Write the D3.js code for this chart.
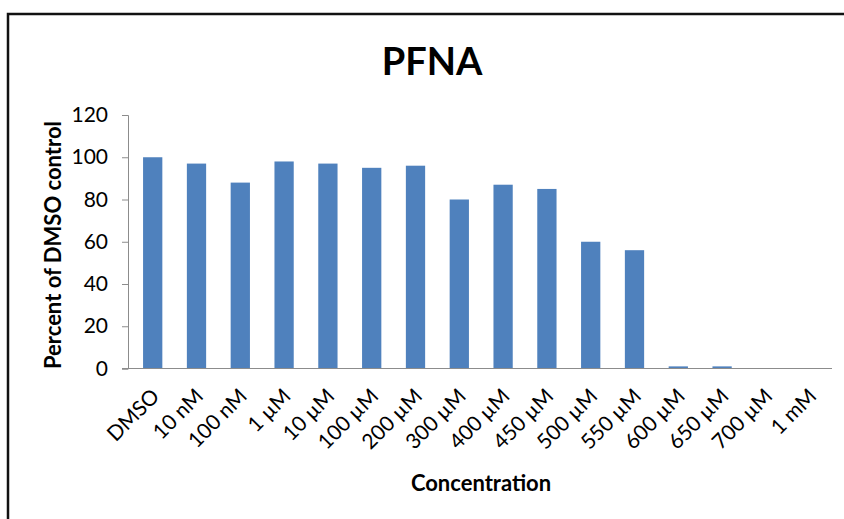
<!DOCTYPE html>
<html>
<head>
<meta charset="utf-8">
<script src="https://cdn.jsdelivr.net/npm/d3@7"></script>
<style>
  html, body { margin: 0; padding: 0; background: #fff; }
  svg { display: block; }
  text { font-family: Lato, "Open Sans", sans-serif; fill: #000; }
</style>
</head>
<body>
<svg id="chart" width="844" height="519"></svg>
<script>
// Concentrations tested and viability as percent of the DMSO control
const categories = ["DMSO", "10 nM", "100 nM", "1 µM", "10 µM", "100 µM", "200 µM", "300 µM",
                    "400 µM", "450 µM", "500 µM", "550 µM", "600 µM", "650 µM", "700 µM", "1 mM"];
const values = [100, 97, 88, 98, 97, 95, 96, 80, 87, 85, 60, 56, 1, 1, 0, 0];
const yTicks = [0, 20, 40, 60, 80, 100, 120];

const svg = d3.select("#chart");

// Outer chart frame
svg.append("rect")
  .attr("x", 8).attr("y", 14)
  .attr("width", 900).attr("height", 600)
  .attr("fill", "#fff")
  .attr("stroke", "#111").attr("stroke-width", 2.5);

const x = d3.scaleBand()
  .domain(categories)
  .range([130.8, 831.6])
  .paddingInner(0.56)
  .paddingOuter(0.28);

const y = d3.scaleLinear()
  .domain([0, 120])
  .range([368.5, 115]);

// Bars
svg.append("g")
  .selectAll("rect")
  .data(values)
  .join("rect")
  .attr("x", (d, i) => x(categories[i]))
  .attr("width", x.bandwidth())
  .attr("y", d => y(d))
  .attr("height", d => y(0) - y(d))
  .attr("fill", "#4F81BD");

// Y axis
const yAxis = svg.append("g")
  .attr("transform", "translate(128,0)")
  .call(d3.axisLeft(y).tickValues(yTicks).tickSize(6).tickPadding(14));
yAxis.select(".domain").attr("stroke", "#8c8c8c");
yAxis.selectAll(".tick line").attr("stroke", "#8c8c8c");
yAxis.selectAll(".tick text")
  .attr("font-size", 21)
  .attr("font-family", "Lato, sans-serif")
  .attr("fill", "#000");

// X axis baseline
const xAxis = svg.append("g")
  .attr("transform", `translate(0,${y(0)})`)
  .call(d3.axisBottom(x).tickSize(0).tickPadding(0));
xAxis.select(".domain")
  .attr("d", `M122,0H832`)
  .attr("stroke", "#8c8c8c");
xAxis.selectAll(".tick text")
  .attr("font-size", 21)
  .attr("font-family", "Lato, sans-serif")
  .attr("fill", "#000")
  .attr("text-anchor", "end")
  .attr("dy", "0")
  .attr("transform", "translate(8,29) rotate(-45)");

// Title
svg.append("text")
  .attr("x", 432).attr("y", 75)
  .attr("text-anchor", "middle")
  .attr("font-size", 38)
  .attr("font-weight", "bold")
  .text("PFNA");

// Axis titles
svg.append("text")
  .attr("transform", "translate(61,245) rotate(-90)")
  .attr("text-anchor", "middle")
  .attr("font-size", 22)
  .attr("font-weight", "bold")
  .text("Percent of DMSO control");

svg.append("text")
  .attr("x", 481).attr("y", 491)
  .attr("text-anchor", "middle")
  .attr("font-size", 22)
  .attr("font-weight", "bold")
  .text("Concentration");
</script>
</body>
</html>
